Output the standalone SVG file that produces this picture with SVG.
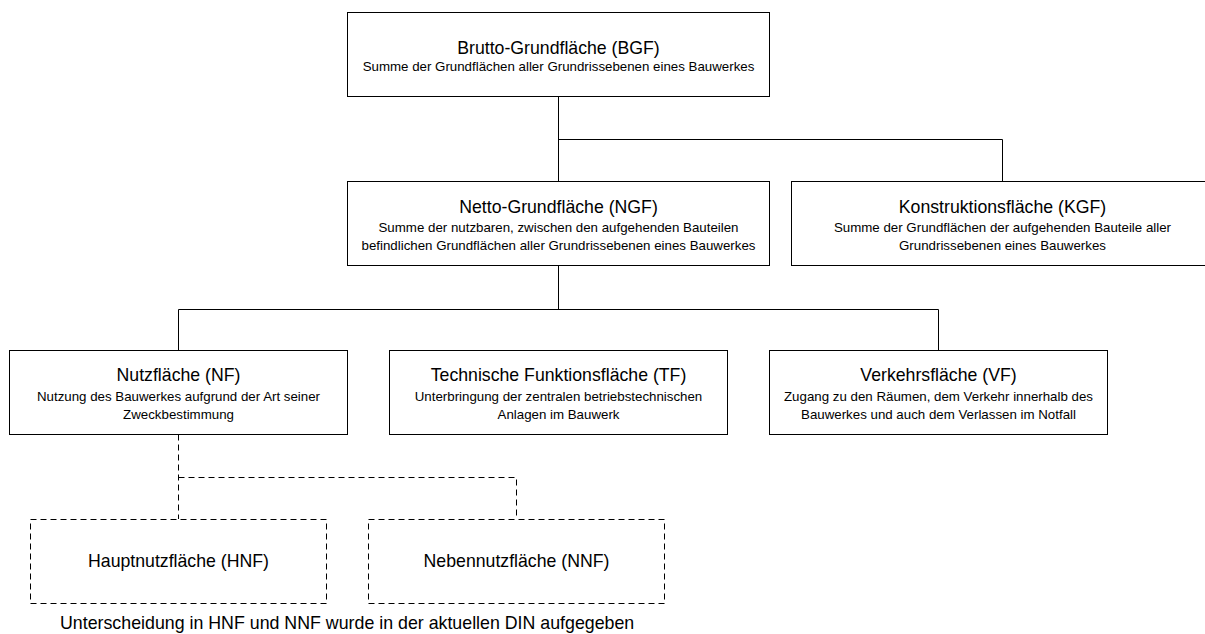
<svg xmlns="http://www.w3.org/2000/svg" width="1205" height="634" viewBox="0 0 1205 634">
  <style>
    .box { fill: #ffffff; stroke: #000000; stroke-width: 1; }
    .dbox { fill: #ffffff; stroke: #000000; stroke-width: 1; stroke-dasharray: 6 4; }
    .link { fill: none; stroke: #000000; stroke-width: 1; }
    .dlink { fill: none; stroke: #000000; stroke-width: 1; stroke-dasharray: 6 4; }
    text { font-family: "Liberation Sans", Arial, sans-serif; fill: #000000; text-anchor: middle; }
    .title { font-size: 17.7px; }
    .sub { font-size: 13.3px; }
    .note { font-size: 17.8px; text-anchor: start; }
  </style>
  <rect width="1205" height="634" fill="#ffffff"/>

  <!-- connectors -->
  <g id="connectors">
    <path class="link" d="M558.5 96.5 V181 M558.5 139.5 H1002.5 V181"/>
    <path class="link" d="M558.5 265.5 V309.5 M178.5 350 V309.5 H938.5 V350"/>
    <path class="dlink" d="M178.5 434.5 V519 M178.5 477.5 H516.5 V519"/>
  </g>

  <g id="bgf">
    <rect class="box" x="347.5" y="12.5" width="422" height="84"/>
    <text class="title" x="558.5" y="53.5">Brutto-Grundfläche (BGF)</text>
    <text class="sub" x="558.5" y="70.5">Summe der Grundflächen aller Grundrissebenen eines Bauwerkes</text>
  </g>

  <g id="ngf">
    <rect class="box" x="347.5" y="181.5" width="422" height="84"/>
    <text class="title" x="558.5" y="212.5">Netto-Grundfläche (NGF)</text>
    <text class="sub" x="558.5" y="232">Summe der nutzbaren, zwischen den aufgehenden Bauteilen</text>
    <text class="sub" x="558.5" y="249.5">befindlichen Grundflächen aller Grundrissebenen eines Bauwerkes</text>
  </g>

  <g id="kgf">
    <rect class="box" x="791.5" y="181.5" width="422" height="84"/>
    <text class="title" x="1002.5" y="212.5">Konstruktionsfläche (KGF)</text>
    <text class="sub" x="1002.5" y="232">Summe der Grundflächen der aufgehenden Bauteile aller</text>
    <text class="sub" x="1002.5" y="249.5">Grundrissebenen eines Bauwerkes</text>
  </g>

  <g id="nf">
    <rect class="box" x="9.5" y="350.5" width="338" height="84"/>
    <text class="title" x="178.5" y="381">Nutzfläche (NF)</text>
    <text class="sub" x="178.5" y="401">Nutzung des Bauwerkes aufgrund der Art seiner</text>
    <text class="sub" x="178.5" y="418.5">Zweckbestimmung</text>
  </g>

  <g id="tf">
    <rect class="box" x="389.5" y="350.5" width="338" height="84"/>
    <text class="title" x="558.5" y="381">Technische Funktionsfläche (TF)</text>
    <text class="sub" x="558.5" y="401">Unterbringung der zentralen betriebstechnischen</text>
    <text class="sub" x="558.5" y="418.5">Anlagen im Bauwerk</text>
  </g>

  <g id="vf">
    <rect class="box" x="769.5" y="350.5" width="338" height="84"/>
    <text class="title" x="938.5" y="381">Verkehrsfläche (VF)</text>
    <text class="sub" x="938.5" y="401">Zugang zu den Räumen, dem Verkehr innerhalb des</text>
    <text class="sub" x="938.5" y="418.5">Bauwerkes und auch dem Verlassen im Notfall</text>
  </g>

  <g id="hnf">
    <rect class="dbox" x="30.5" y="519.5" width="296" height="84"/>
    <text class="title" x="178.5" y="567">Hauptnutzfläche (HNF)</text>
  </g>

  <g id="nnf">
    <rect class="dbox" x="368.5" y="519.5" width="296" height="84"/>
    <text class="title" x="516.5" y="567">Nebennutzfläche (NNF)</text>
  </g>

  <g id="note">
    <text class="note" x="60" y="629">Unterscheidung in HNF und NNF wurde in der aktuellen DIN aufgegeben</text>
  </g>
</svg>
